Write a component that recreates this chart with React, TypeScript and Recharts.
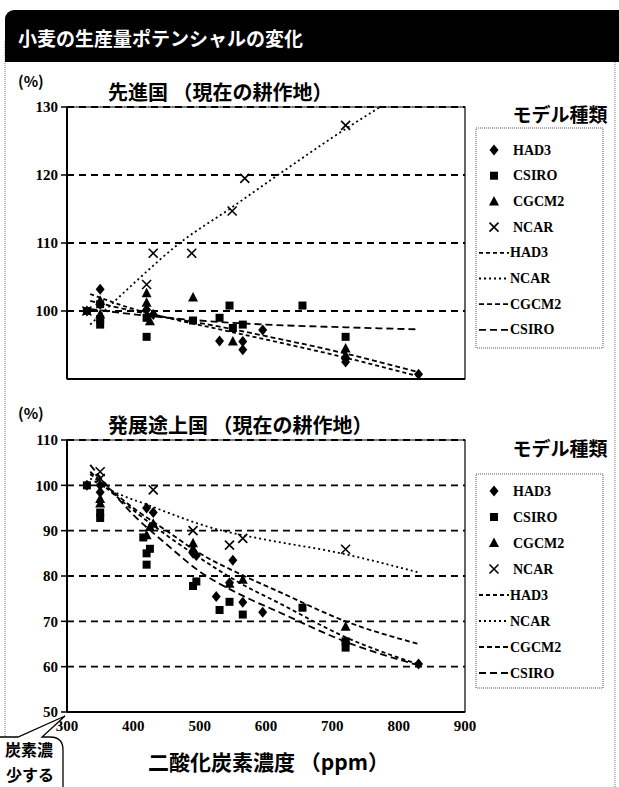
import {
  CartesianGrid,
  ComposedChart,
  Line,
  ReferenceArea,
  Scatter,
  XAxis,
  YAxis,
} from 'recharts'

const xTicks = [300, 400, 500, 600, 700, 800, 900]
const devTicks = [90, 100, 110, 120, 130]
const dvgTicks = [50, 60, 70, 80, 90, 100, 110]

// 先進国: measured points [ppm, %]
const devHad3 = [[330, 100], [350, 103.2], [350, 101], [420, 100.2], [430, 99.5], [530, 95.6], [565, 94.3], [565, 95.5], [595, 97.2], [720, 93], [720, 92.5], [830, 90.7]]
const devCsiro = [[330, 100], [350, 101], [350, 98], [350, 98.8], [420, 96.2], [420, 99], [490, 98.6], [530, 99], [545, 100.8], [550, 97.5], [565, 98], [655, 100.8], [720, 96.2]]
const devCgcm2 = [[350, 101.5], [350, 99.5], [420, 102.6], [420, 101.2], [425, 98.5], [490, 102], [550, 95.5], [720, 94.5], [720, 93.5]]
const devNcar = [[330, 100], [420, 103.9], [430, 108.5], [488, 108.5], [549, 114.7], [568, 119.5], [720, 127.3]]

// 先進国: trend lines
const devHad3Trend = [[335, 102.5], [400, 100.3], [460, 98.8], [530, 97.3], [600, 95.8], [700, 93.6], [830, 90.4]]
const devNcarTrend = [[335, 98], [400, 104], [470, 110], [545, 115], [618, 120], [700, 125.5], [772, 130]]
const devCgcm2Trend = [[335, 101.5], [400, 100], [460, 98.9], [530, 97.7], [600, 96.3], [700, 94.2], [830, 91]]
const devCsiroTrend = [[335, 100.3], [420, 99.3], [500, 98.6], [600, 98], [720, 97.6], [830, 97.3]]

// 発展途上国: measured points
const dvgHad3 = [[330, 100], [350, 100], [350, 98.5], [420, 95], [430, 94], [490, 85], [495, 84.5], [525, 75.5], [545, 78.5], [550, 83.5], [565, 74.2], [595, 72], [720, 65.5], [830, 60.6]]
const dvgCsiro = [[330, 100], [350, 94], [350, 92.8], [415, 88.5], [420, 85], [420, 82.5], [425, 86], [490, 77.8], [495, 78.8], [530, 72.5], [545, 74.3], [565, 71.5], [655, 73], [720, 64.2], [720, 65.6]]
const dvgCgcm2 = [[350, 97], [350, 96], [420, 89], [425, 90.8], [430, 91.5], [490, 87.2], [490, 86], [545, 78.3], [565, 79.2], [720, 68.8]]
const dvgNcar = [[350, 103], [350, 101.5], [430, 99], [490, 90], [545, 86.8], [565, 88.3], [720, 85.9]]

// 発展途上国: trend lines
const dvgHad3Trend = [[335, 102.5], [400, 94.5], [450, 89], [500, 84], [560, 78.5], [620, 74], [720, 66.5], [830, 60.5]]
const dvgNcarTrend = [[335, 101.5], [365, 99], [425, 95.5], [526, 90.3], [600, 88], [700, 85.4], [830, 80.8]]
const dvgCgcm2Trend = [[335, 103], [400, 95], [450, 90], [500, 85], [560, 80.5], [620, 76.5], [720, 70], [830, 65]]
const dvgCsiroTrend = [[335, 104.5], [400, 93.5], [450, 87], [500, 81], [560, 76], [620, 72], [720, 65.5], [830, 60.3]]

const markerNames = ['HAD3', 'CSIRO', 'CGCM2', 'NCAR']
const trendNames = ['HAD3', 'NCAR', 'CGCM2', 'CSIRO']
const trendDash = ['4 3', '2 3', '5 3', '7 4']

const pts = (a: number[][]) => a.map(([x, y]) => ({ x, y }))

const serif = '"Liberation Serif", "DejaVu Serif", serif'
const jp = '"Noto Sans CJK JP", "Noto Sans", sans-serif'

const Diamond = ({ cx, cy }: any) => (
  <path d={`M${cx},${cy - 5.5}L${cx + 4.5},${cy}L${cx},${cy + 5.5}L${cx - 4.5},${cy}Z`} fill="#000" />
)
const Square = ({ cx, cy }: any) => <rect x={cx - 4} y={cy - 4} width={8} height={8} fill="#000" />
const Triangle = ({ cx, cy }: any) => (
  <path d={`M${cx},${cy - 5.5}L${cx + 5},${cy + 4}L${cx - 5},${cy + 4}Z`} fill="#000" />
)
const Cross = ({ cx, cy }: any) => (
  <path
    d={`M${cx - 4.5},${cy - 4.5}L${cx + 4.5},${cy + 4.5}M${cx + 4.5},${cy - 4.5}L${cx - 4.5},${cy + 4.5}`}
    stroke="#000"
    strokeWidth={1.6}
    fill="none"
  />
)
const shapes = [Diamond, Square, Triangle, Cross]

function Panel({ top, height, domain, ticks, showX, marks, trends }: any) {
  return (
    <div style={{ position: 'absolute', left: 0, top }}>
      <ComposedChart width={480} height={height} margin={{ top: 10, right: 15, bottom: 0, left: 27 }}>
        <CartesianGrid vertical={false} stroke="#000" strokeDasharray="7 5" strokeWidth={1.8} />
        <XAxis
          type="number"
          dataKey="x"
          domain={[300, 900]}
          ticks={xTicks}
          allowDataOverflow
          height={showX ? 30 : 4}
          tick={showX ? { fontFamily: serif, fontSize: 15, fontWeight: 700, fill: '#000' } : false}
          tickLine={false}
          tickMargin={2}
          axisLine={{ stroke: '#000', strokeWidth: 2 }}
        />
        <YAxis
          type="number"
          dataKey="y"
          domain={domain}
          ticks={ticks}
          allowDataOverflow
          width={40}
          tick={{ fontFamily: serif, fontSize: 15, fontWeight: 700, fill: '#000' }}
          tickLine={{ stroke: '#000', strokeWidth: 1.5 }}
          tickSize={6}
          tickMargin={3}
          axisLine={{ stroke: '#000', strokeWidth: 2 }}
        />
        <ReferenceArea x1={300} x2={900} y1={domain[0]} y2={domain[1]} fill="none" stroke="#000" strokeWidth={1.2} />
        {trends.map((t: number[][], i: number) => (
          <Line
            key={'t' + i}
            data={pts(t)}
            dataKey="y"
            type="monotone"
            stroke="#000"
            strokeWidth={1.8}
            strokeDasharray={trendDash[i]}
            dot={false}
            activeDot={false}
            isAnimationActive={false}
          />
        ))}
        {marks.map((m: number[][], i: number) => (
          <Scatter key={'m' + i} data={pts(m)} shape={shapes[i]} isAnimationActive={false} />
        ))}
      </ComposedChart>
    </div>
  )
}

function ModelLegend({ titleY, boxTop, boxBottom, rowY, rowH }: any) {
  return (
    <svg style={{ position: 'absolute', left: 0, top: 0 }} width={619} height={787}>
      <text x={560} y={titleY} textAnchor="middle" dominantBaseline="central" fontFamily={jp} fontWeight={700} fontSize={19}>
        モデル種類
      </text>
      <rect x={476} y={boxTop} width={127} height={boxBottom - boxTop} fill="#fff" stroke="#555" strokeDasharray="1 1" />
      {markerNames.map((n, i) => {
        const S = shapes[i]
        const y = rowY + i * rowH
        return (
          <g key={n}>
            <S cx={494} cy={y} />
            <text x={513} y={y} dominantBaseline="central" fontFamily={serif} fontWeight={700} fontSize={14}>{n}</text>
          </g>
        )
      })}
      {trendNames.map((n, i) => {
        const y = rowY + (i + 4) * rowH
        return (
          <g key={'l' + n}>
            <line x1={479} x2={509} y1={y} y2={y} stroke="#000" strokeWidth={1.8} strokeDasharray={trendDash[i]} />
            <text x={510} y={y} dominantBaseline="central" fontFamily={serif} fontWeight={700} fontSize={14}>{n}</text>
          </g>
        )
      })}
    </svg>
  )
}

const txt = (x: number, y: number, size: number, s: string, color = '#000') => (
  <div
    style={{
      position: 'absolute',
      left: x,
      top: y - size / 2,
      fontSize: size,
      lineHeight: 1,
      fontWeight: 700,
      fontFamily: jp,
      whiteSpace: 'nowrap',
      color,
    }}
  >
    {s}
  </div>
)

export default function App() {
  return (
    <div style={{ position: 'absolute', left: 0, top: 0, width: 619, height: 787, background: '#fff', overflow: 'hidden' }}>
      <svg style={{ position: 'absolute', left: 0, top: 0 }} width={619} height={787}>
        <rect x={5} y={40} width={610} height={780} fill="none" stroke="#777" strokeDasharray="1 1" />
      </svg>
      <div style={{ position: 'absolute', left: 5, top: 10, width: 614, height: 52, background: '#000', borderTopLeftRadius: 9 }} />
      {txt(18, 37, 19, '小麦の生産量ポテンシャルの変化', '#fff')}

      {txt(18, 80, 15, '(%)')}
      {txt(108, 92, 20, '先進国 （現在の耕作地）')}
      <Panel
        top={97}
        height={286}
        domain={[90, 130]}
        ticks={devTicks}
        showX={false}
        marks={[devHad3, devCsiro, devCgcm2, devNcar]}
        trends={[devHad3Trend, devNcarTrend, devCgcm2Trend, devCsiroTrend]}
      />
      <ModelLegend titleY={113} boxTop={128} boxBottom={348} rowY={150} rowH={25.7} />

      {txt(18, 412, 15, '(%)')}
      {txt(108, 425, 20, '発展途上国 （現在の耕作地）')}
      <Panel
        top={430}
        height={312}
        domain={[50, 110]}
        ticks={dvgTicks}
        showX
        marks={[dvgHad3, dvgCsiro, dvgCgcm2, dvgNcar]}
        trends={[dvgHad3Trend, dvgNcarTrend, dvgCgcm2Trend, dvgCsiroTrend]}
      />
      <ModelLegend titleY={447} boxTop={474} boxBottom={688} rowY={491} rowH={26} />

      {txt(148, 761, 21, '二酸化炭素濃度 （ppm）')}

      <svg style={{ position: 'absolute', left: 0, top: 0 }} width={619} height={787}>
        <path
          d="M-5,737 L18,737 L65,716 L42,737 L50,737 Q63,737 63,750 L63,800 L-5,800 Z"
          fill="#fff"
          stroke="#000"
          strokeWidth={1.3}
        />
        <text x={5} y={749} dominantBaseline="central" fontFamily={jp} fontWeight={700} fontSize={16}>炭素濃</text>
        <text x={6} y={774} dominantBaseline="central" fontFamily={jp} fontWeight={700} fontSize={16}>少する</text>
      </svg>
    </div>
  )
}
